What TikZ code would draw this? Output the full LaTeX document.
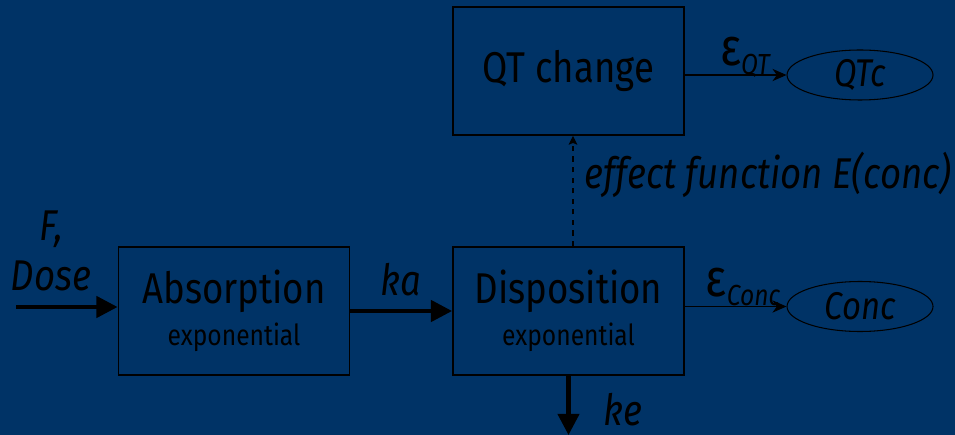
\documentclass[tikz,border=0pt]{standalone}
\usepackage{fontspec}
\setmainfont{Fira Sans}[FakeStretch=0.85]
\usetikzlibrary{arrows.meta,shapes.geometric}
\definecolor{bgblue}{RGB}{0,51,102}
\newcommand{\buyuk}{\fontsize{24.5}{28}\selectfont}
\newcommand{\orta}{\fontsize{22}{26}\selectfont}
\newcommand{\kucuk}{\fontsize{16.5}{19}\selectfont}
\newcommand{\alt}{\fontsize{16.5}{19}\selectfont\itshape}
\newcommand{\eps}{\fontsize{30}{30}\selectfont}
\tikzset{
  blok/.style={draw=black, line width=1.1pt, minimum width=4.62cm, minimum height=2.56cm, inner sep=0pt, align=center},
  ovaal/.style={ellipse, draw=black, line width=0.6pt, minimum width=2.92cm, minimum height=1.0cm, inner sep=0pt, font=\orta\itshape},
  kalin/.style={line width=2.3pt, -{Triangle[length=12pt,width=12pt]}},
  ince/.style={line width=0.6pt, -{Stealth[length=8pt,width=7pt,inset=2.5pt]}},
  etiket/.style={inner sep=0pt, font=\buyuk\itshape},
}
\begin{document}
\begin{tikzpicture}[x=0.02cm, y=-0.02cm]
    % Arka plan
    \path[use as bounding box, fill=bgblue] (0,0) rectangle (955,435);

    % Kutular
    \node[blok] (A) at (234,311) {\buyuk Absorption\\[5pt]\kucuk exponential};
    \node[blok] (D) at (568.5,311) {\buyuk Disposition\\[5pt]\kucuk exponential};
    \node[blok] (QT) at (568.5,71) {\buyuk QT change};

    % Elipsler
    \node[ovaal] (QTc) at (860,75) {QTc};
    \node[ovaal] (C) at (860,306.5) {Conc};

    % Giris ve cikis
    \coordinate (giris) at (16,307);
    \coordinate (cikis) at (568.5,435);

    % Oklar
    \draw[kalin] (giris) -- (giris -| A.west);
    \draw[kalin] (A.east) -- (D.west);
    \draw[kalin] (D.south) -- (cikis);
    \draw[ince] (QTc -| QT.east) -- (QTc.west);
    \draw[ince] (C -| D.east) -- (C.west);
    \draw[dashed, line width=0.6pt, -{Stealth[length=5pt,width=5pt,inset=1pt]}] ([xshift=0.09cm]D.north) -- ([xshift=0.09cm]QT.south);

    % Etiketler
    \node[etiket, align=center] (doz) at (51,251) {F,\\Dose};
    \node[etiket] (ka) at (401,280) {ka};
    \node[etiket] (ke) at (623,410) {ke};
    \node[etiket] (etki) at (768,175) {effect function E(conc)};
    \node[inner sep=0pt] (eQT) at (745,57) {{\eps ε}\raisebox{-5pt}{\alt QT}};
    \node[inner sep=0pt] (eC) at (743,287) {{\eps ε}\raisebox{-5pt}{\alt Conc}};
\end{tikzpicture}
\end{document}
